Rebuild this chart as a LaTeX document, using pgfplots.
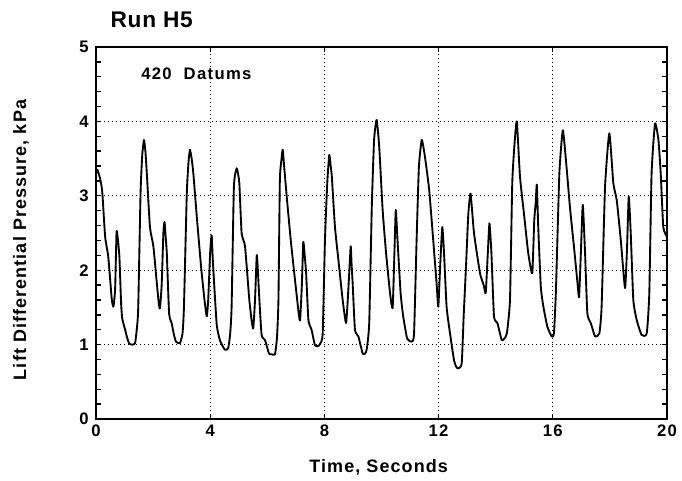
\documentclass[border=0pt]{standalone}
\usepackage{fontspec}
\setmainfont{Liberation Sans}
\usepackage{pgfplots}
\pgfplotsset{compat=1.18}

\pgfplotstableread{
t v
0.00 3.30
0.05 3.35
0.15 3.22
0.22 3.05
0.32 2.45
0.43 2.18
0.55 1.62
0.61 1.51
0.67 1.75
0.72 2.52
0.77 2.40
0.82 2.18
0.88 1.55
0.92 1.35
1.02 1.20
1.10 1.08
1.17 1.01
1.28 1.00
1.37 1.02
1.44 1.25
1.48 1.51
1.56 3.03
1.62 3.55
1.68 3.75
1.73 3.60
1.78 3.30
1.89 2.58
2.01 2.32
2.12 1.87
2.20 1.55
2.24 1.49
2.30 1.80
2.36 2.50
2.40 2.65
2.44 2.45
2.48 2.23
2.56 1.42
2.65 1.29
2.72 1.15
2.80 1.04
2.94 1.02
3.03 1.15
3.08 1.50
3.18 3.03
3.24 3.45
3.29 3.62
3.35 3.50
3.41 3.30
3.53 2.72
3.68 2.05
3.80 1.60
3.88 1.38
3.93 1.60
4.00 2.25
4.05 2.47
4.09 2.15
4.13 1.87
4.23 1.26
4.34 1.06
4.45 0.97
4.52 0.93
4.63 0.95
4.70 1.15
4.75 1.51
4.83 3.12
4.93 3.37
5.02 3.17
5.10 2.50
5.22 2.32
5.37 1.60
5.46 1.30
5.51 1.22
5.57 1.60
5.63 2.20
5.67 2.00
5.71 1.69
5.80 1.13
5.92 1.06
6.06 0.88
6.15 0.87
6.27 0.87
6.34 1.10
6.39 1.60
6.44 3.21
6.50 3.50
6.54 3.62
6.60 3.35
6.68 2.99
6.82 2.41
6.97 1.87
7.10 1.42
7.15 1.33
7.21 1.80
7.26 2.38
7.31 2.20
7.36 1.96
7.44 1.33
7.55 1.20
7.67 0.99
7.78 0.98
7.85 1.01
7.94 1.15
8.02 2.41
8.10 3.17
8.17 3.55
8.22 3.40
8.26 3.26
8.37 2.58
8.49 2.14
8.64 1.60
8.76 1.29
8.84 1.75
8.92 2.32
8.95 2.10
8.99 1.82
9.07 1.20
9.19 1.11
9.34 0.88
9.42 0.88
9.48 0.93
9.57 1.29
9.66 2.85
9.74 3.75
9.83 4.02
9.92 3.66
10.04 2.81
10.16 2.23
10.30 1.69
10.39 1.49
10.45 2.20
10.50 2.81
10.56 2.41
10.67 1.69
10.76 1.38
10.90 1.08
11.06 1.04
11.14 1.15
11.23 2.41
11.31 3.39
11.41 3.75
11.52 3.53
11.67 3.08
11.81 2.41
11.93 1.82
11.99 1.51
12.06 2.10
12.13 2.58
12.19 2.23
12.28 1.51
12.40 1.15
12.54 0.79
12.62 0.70
12.69 0.68
12.81 0.75
12.88 1.40
12.96 2.05
13.04 2.75
13.12 3.03
13.24 2.50
13.45 1.96
13.58 1.80
13.65 1.69
13.72 2.20
13.78 2.63
13.85 2.23
13.94 1.38
14.06 1.29
14.21 1.06
14.30 1.08
14.39 1.15
14.50 1.60
14.58 3.17
14.66 3.70
14.74 4.00
14.85 3.26
14.99 2.76
15.14 2.23
15.28 1.96
15.35 2.67
15.40 2.90
15.44 3.15
15.49 2.58
15.58 1.78
15.67 1.51
15.81 1.24
15.96 1.11
16.04 1.15
16.11 1.73
16.23 3.30
16.35 3.88
16.46 3.48
16.60 2.85
16.74 2.32
16.86 1.85
16.92 1.64
16.98 2.20
17.05 2.88
17.13 2.23
17.21 1.42
17.33 1.29
17.48 1.11
17.63 1.15
17.71 1.51
17.83 3.12
17.98 3.84
18.12 3.17
18.24 2.94
18.38 2.41
18.53 1.76
18.60 2.30
18.66 2.99
18.73 2.50
18.82 1.60
18.94 1.33
19.11 1.13
19.29 1.15
19.38 1.69
19.46 3.30
19.58 3.97
19.70 3.75
19.78 3.30
19.87 2.58
20.00 2.45
}\runhfive

\begin{document}
\begin{tikzpicture}
\begin{axis}[
  scale only axis,
  width=428.25pt, height=279pt,
  xmin=0, xmax=20, ymin=0, ymax=5,
  xtick={0,4,...,20}, ytick={0,1,...,5},
  minor y tick num=4,
  tick align=inside,
  major tick length=4pt, minor tick length=4pt,
  tick style={black, line width=1pt},
  axis line style={line width=1.8pt},
  grid=major,
  major grid style={black, line width=1pt, dash pattern=on 1pt off 2pt},
  /pgf/number format/assume math mode=true,
  ticklabel style={font=\bfseries\fontsize{12.5}{12.5}\selectfont\addfontfeature{LetterSpace=8}},
  xticklabel style={yshift=-1pt},
  yticklabel style={xshift=-2pt},
]
\addplot[black, line width=1.4pt, line join=round, smooth, tension=0.3] table[x=t, y=v] {\runhfive};
\end{axis}
\node[anchor=west, font=\bfseries\fontsize{17}{17}\selectfont\addfontfeature{LetterSpace=3}] at (7.5pt,299.25pt) {Run H5};
\node[anchor=west, inner sep=0pt, font=\bfseries\fontsize{12.5}{12.5}\selectfont\addfontfeature{LetterSpace=8}] at (33.75pt,258.75pt) {420\ \ Datums};
\node[font=\bfseries\fontsize{13.5}{13.5}\selectfont\addfontfeature{LetterSpace=6}] at (212pt,-36pt) {Time, Seconds};
\node[rotate=90, font=\bfseries\fontsize{13.5}{13.5}\selectfont\addfontfeature{LetterSpace=6}] at (-56.25pt,134.25pt) {Lift Differential Pressure, kPa};
\pgfresetboundingbox
\path[use as bounding box] (-72pt,-45.75pt) rectangle (439.5pt,314.25pt);
\end{tikzpicture}
\end{document}
